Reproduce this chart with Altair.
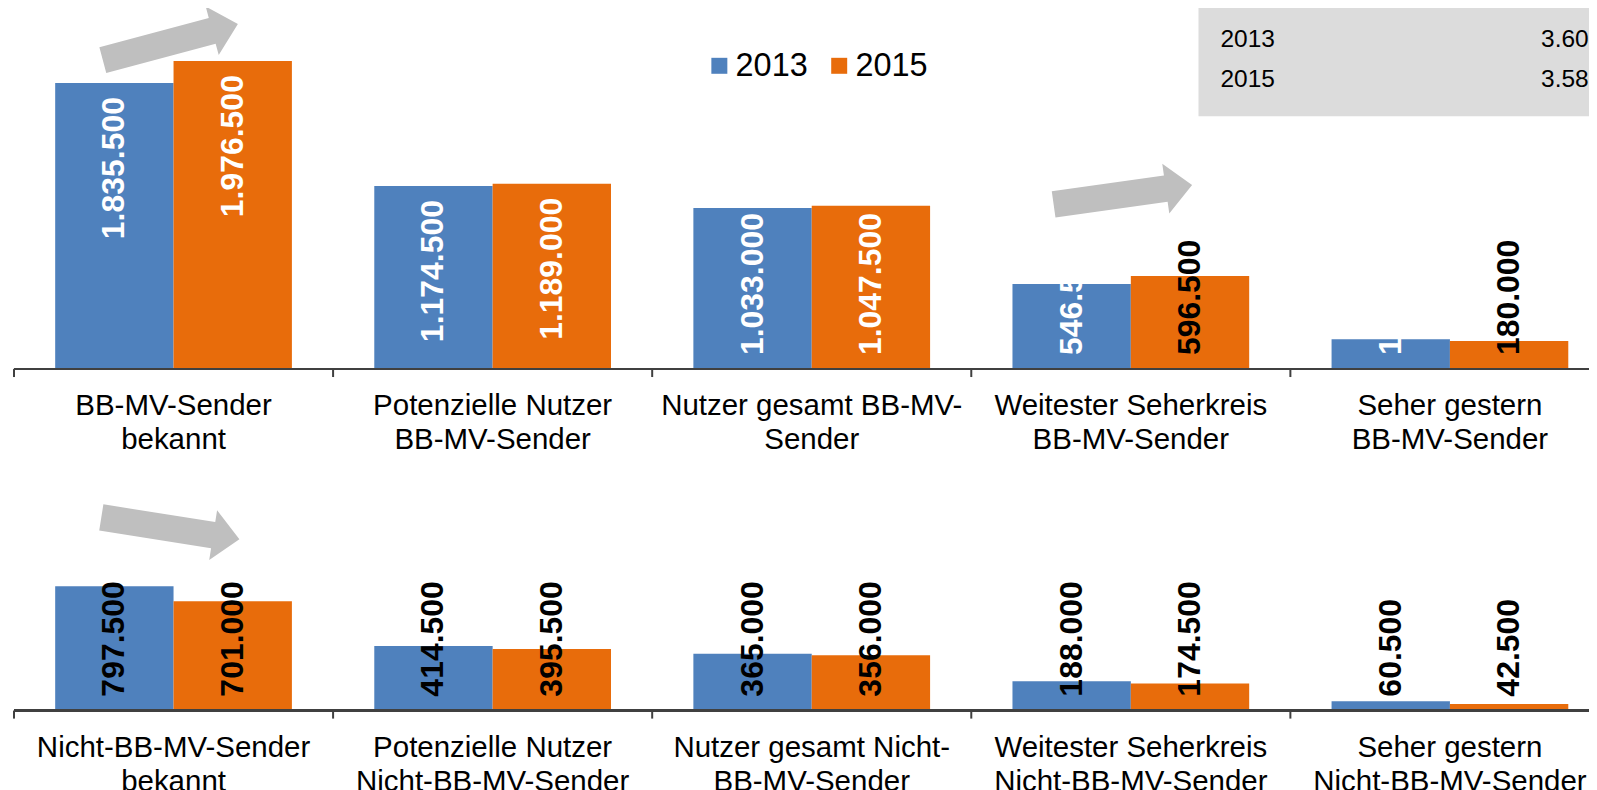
import math
import altair as alt
import pandas as pd

# ---------------- data ----------------
cats_top = [
    "BB-MV-Sender|bekannt",
    "Potenzielle Nutzer|BB-MV-Sender",
    "Nutzer gesamt BB-MV-|Sender",
    "Weitester Seherkreis|BB-MV-Sender",
    "Seher gestern|BB-MV-Sender",
]
cats_bottom = [
    "Nicht-BB-MV-Sender|bekannt",
    "Potenzielle Nutzer|Nicht-BB-MV-Sender",
    "Nutzer gesamt Nicht-|BB-MV-Sender",
    "Weitester Seherkreis|Nicht-BB-MV-Sender",
    "Seher gestern|Nicht-BB-MV-Sender",
]
years = ["2013", "2015"]
top_2013 = [1835500, 1174500, 1033000, 546500, 191500]
top_2015 = [1976500, 1189000, 1047500, 596500, 180000]
bottom_2013 = [797500, 414500, 365000, 188000, 60500]
bottom_2015 = [701000, 395500, 356000, 174500, 42500]
pop_years = ["2013", "2015"]
pop_values = ["3.600.000", "3.589.000"]

BLUE = "#4F81BD"
ORANGE = "#E86C0B"
ARROW_GRAY = "#BFBFBF"
BOX_GRAY = "#DCDCDC"
AXIS_GRAY = "#404040"
FONT = "Liberation Sans"

STEP = 319.5
W = 1584                 # visible plot width (window edge)
RANGE_END = 5 * STEP     # bands continue past the window edge
TOP_H, TOP_MAX = 363, 2327000
BOT_H, BOT_MAX = 240, 1538000
LAB_FS = 32

ARROW_PTS = [(-1, -0.19), (0.62, -0.19), (0.62, -0.36), (1, 0),
             (0.62, 0.36), (0.62, 0.19), (-1, 0.19)]


def arrow_path(deg):
    t = math.radians(deg)
    c, s = math.cos(t), math.sin(t)
    pts = [(x * c - y * s, x * s + y * c) for x, y in ARROW_PTS]
    return "M" + "L".join(f"{x:.4f},{y:.4f}" for x, y in pts) + "Z"


def fmt(v):
    return f"{v:,}".replace(",", ".")


def label_width(s, fs=LAB_FS):
    return fs * sum(0.278 if c == "." else 0.556 for c in s)


def make_df(cats, v13, v15, panel, ymax, height):
    rows = []
    for c, a, b in zip(cats, v13, v15):
        for yr, v in (("2013", a), ("2015", b)):
            t = fmt(v)
            bar_px = v / ymax * height
            pos = "end" if bar_px >= label_width(t) + 29 else "base"
            white = panel == "top" and (yr == "2013" or v > 1000000)
            rows.append(dict(cat=c, year=yr, value=v, label=t, pos=pos,
                             lc="#FFFFFF" if white else "#000000", zero=0))
    return pd.DataFrame(rows)


def xenc(cats, band=0.5):
    return alt.X(
        "cat:N",
        bandPosition=band,
        scale=alt.Scale(domain=cats, range=[0, RANGE_END], paddingInner=0, paddingOuter=0),
        axis=None,
    )


def panel(df, cats, ymax, height, arrows):
    xo = alt.XOffset("year:N", scale=alt.Scale(domain=years, paddingInner=0, paddingOuter=0.348))
    yscale = alt.Scale(domain=[0, ymax], nice=False, zero=True)
    y = alt.Y("value:Q", scale=yscale, axis=None)
    y0 = alt.Y("zero:Q", scale=yscale, axis=None)
    color = alt.Color(
        "year:N",
        scale=alt.Scale(domain=years, range=[BLUE, ORANGE]),
        legend=alt.Legend(
            title=None, orient="none", legendX=690, legendY=43,
            direction="horizontal", symbolType="square", symbolSize=256,
            symbolStrokeWidth=0, labelFontSize=32.5, labelFont=FONT,
            labelColor="#000000", labelOffset=0, columnPadding=15, padding=0,
        ),
    )
    base = alt.Chart(df)
    bars = base.mark_bar().encode(x=xenc(cats), xOffset=xo, y=y, color=color)
    txt = dict(angle=270, baseline="middle", font=FONT, fontSize=LAB_FS, fontWeight="bold")
    lab_end = base.transform_filter("datum.pos == 'end'").mark_text(
        align="right", dx=-14, **txt
    ).encode(x=xenc(cats), xOffset=xo, y=y, text="label:N",
             color=alt.Color("lc:N", scale=None))
    lab_base = base.transform_filter("datum.pos == 'base'").mark_text(
        align="left", dx=14, **txt
    ).encode(x=xenc(cats), xOffset=xo, y=y0, text="label:N",
             color=alt.Color("lc:N", scale=None))
    # category axis: line, boundary ticks, two-line labels
    axis_line = base.mark_rule(color=AXIS_GRAY, strokeWidth=2).encode(y=y0)
    cat_df = alt.Chart(pd.DataFrame({"cat": cats}))
    ticks = cat_df.mark_rule(color=AXIS_GRAY, strokeWidth=2).encode(
        x=xenc(cats, 0), y=alt.value(height), y2=alt.value(height + 8)
    )
    cat_labels = cat_df.mark_text(
        align="center", baseline="top", font=FONT, fontSize=29.5,
        lineBreak="|", lineHeight=34.5, color="#000000",
    ).encode(x=xenc(cats), y=alt.value(height + 23), text="cat:N")
    layers = [bars, lab_end, lab_base, axis_line, ticks, cat_labels]
    for (ci, band, val, ang, length) in arrows:
        adf = pd.DataFrame({"cat": [cats[ci]], "value": [val]})
        layers.append(
            alt.Chart(adf).mark_point(
                shape=arrow_path(ang), size=length * length, filled=True,
                color=ARROW_GRAY, opacity=1, strokeWidth=0,
            ).encode(x=xenc(cats, band), y=y)
        )
    return layers


df_top = make_df(cats_top, top_2013, top_2015, "top", TOP_MAX, TOP_H)
df_bot = make_df(cats_bottom, bottom_2013, bottom_2015, "bottom", BOT_MAX, BOT_H)

one = pd.DataFrame({"a": [0]})
box = alt.Chart(one).mark_rect(color=BOX_GRAY).encode(
    x=alt.value(1186), x2=alt.value(W), y=alt.value(0), y2=alt.value(110)
)
box_txt = []
for i, (yr, pv) in enumerate(zip(pop_years, pop_values)):
    yy = 34 + i * 39.5
    box_txt.append(alt.Chart(one).mark_text(
        align="left", baseline="middle", font=FONT, fontSize=24.5, color="#000000"
    ).encode(x=alt.value(1208), y=alt.value(yy), text=alt.value(yr)))
    box_txt.append(alt.Chart(one).mark_text(
        align="left", baseline="middle", font=FONT, fontSize=24.5, color="#000000",
        limit=W - 1529, ellipsis="\u200b"
    ).encode(x=alt.value(1529), y=alt.value(yy), text=alt.value(pv)))

top_layers = panel(df_top, cats_top, TOP_MAX, TOP_H,
                   [(0, 0.49, 2099000, -15, 140), (3, 0.475, 1119000, -8, 140)])
bot_layers = panel(df_bot, cats_bottom, BOT_MAX, BOT_H,
                   [(0, 0.49, 1169000, 9, 140)])

top = alt.layer(box, *box_txt, *top_layers).properties(width=W, height=TOP_H)
bottom = alt.layer(*bot_layers).properties(width=W, height=BOT_H)

chart = alt.vconcat(top, bottom, spacing=16).properties(
    padding={"left": 5, "top": -3, "right": -8, "bottom": 0}
).configure_view(stroke=None)

chart.save("out.html", embed_options={"renderer": "svg", "actions": False})
